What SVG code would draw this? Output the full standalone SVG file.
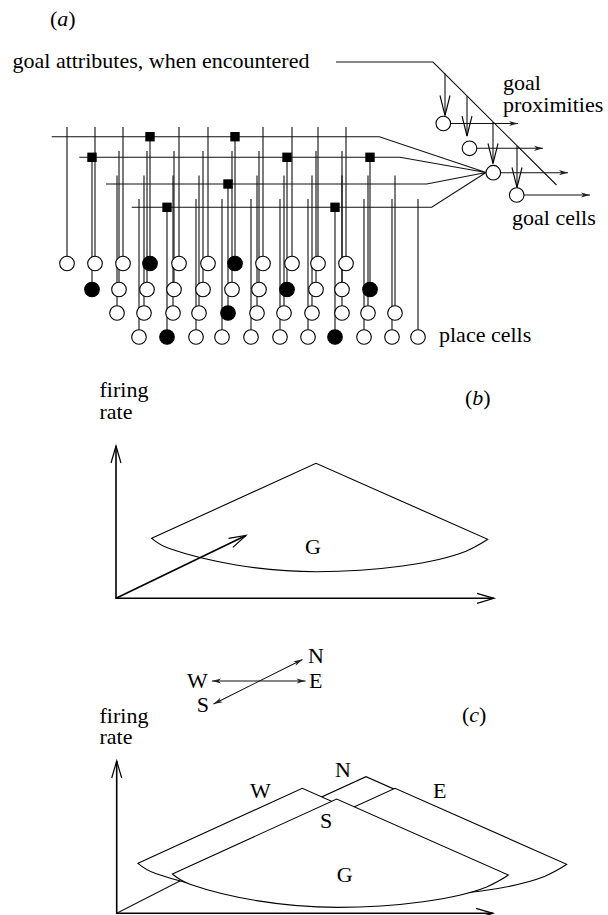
<svg xmlns="http://www.w3.org/2000/svg" width="608" height="915" viewBox="0 0 608 915">
<style>
text{font-family:"Liberation Serif","Times New Roman",serif;font-size:22px;fill:#000}
.ln{fill:none;stroke:#111;stroke-width:1.1}
.ax{fill:none;stroke:#000;stroke-width:1.6}
.cell{fill:#fff;stroke:#000;stroke-width:1.1}
.on{fill:#000;stroke:#000;stroke-width:1.1}
.syn{fill:#000}
.cone{stroke:#000;stroke-width:1.1}
</style>
<defs>
<marker id="vee" markerUnits="userSpaceOnUse" markerWidth="20" markerHeight="12" refX="0" refY="0" orient="auto" overflow="visible"><path d="M-17,-5 L0,0 L-17,5" fill="none" stroke="#000" stroke-width="1.2"/></marker>
<marker id="veeL" markerUnits="userSpaceOnUse" markerWidth="22" markerHeight="12" refX="0" refY="0" orient="auto" overflow="visible"><path d="M-20,-5 L0,0 L-20,5" fill="none" stroke="#000" stroke-width="1.1"/></marker>
<marker id="sm" markerUnits="userSpaceOnUse" markerWidth="10" markerHeight="6" refX="0" refY="0" orient="auto-start-reverse" overflow="visible"><path d="M0,0 L-9,-2.6 L-6.5,0 L-9,2.6 Z" fill="#222"/></marker>
<path id="cone" d="M-164.3,75 L0,0 L171.7,76 Q163,82 150,88 C120,100 60,108.4 0.7,108.4 C-55,108.4 -110,98 -146,85.5 Q-156,82 -164.3,75 Z"/>
</defs>

<g id="labels-a">
<text x="50" y="26">(<tspan font-style="italic">a</tspan>)</text>
<text x="12.5" y="67.5">goal attributes, when encountered</text>
<text x="503" y="90">goal</text>
<text x="503" y="112">proximities</text>
<text x="512" y="225">goal cells</text>
<text x="439" y="342">place cells</text>
</g>

<g id="connectors">
<path class="ln" d="M51.7,136.7H379.3L486,172.5M79.3,157.3H400L486,172.5M106,184H426.7L486,172.5M131.7,207.3H431.7L486,172.5"/>
<path class="ln" d="M67,127V256.2M95,127V256.2M123,127V256.2M150,136.7V256.2M179,127V256.2M208,127V256.2M235,136.7V256.2M263,127V256.2M292,127V256.2M318,127V256.2M346,127V256.2"/>
<path class="ln" d="M92,157.3V282.2M119,151V282.2M147,151V282.2M174,151V282.2M203,151V282.2M232,151V282.2M259,151V282.2M287,157.3V282.2M316,151V282.2M342,151V282.2M370,157.3V282.2"/>
<path class="ln" d="M117,175.5V305.7M144,175.5V305.7M173,175.5V305.7M199,175.5V305.7M228,184V305.7M257,175.5V305.7M284,175.5V305.7M312,175.5V305.7M342,175.5V305.7M368,175.5V305.7M395,175.5V305.7"/>
<path class="ln" d="M139,199V329.7M167,207.3V329.7M196,199V329.7M222,199V329.7M251,199V329.7M280,199V329.7M308,199V329.7M335,207.3V329.7M364,199V329.7M392,199V329.7M418,199V329.7"/>
<path class="ln" d="M336,62H433L556.5,185"/>
<path class="ln" d="M445,73.5V115.5" marker-end="url(#veeL)"/>
<path class="ln" d="M467,96V136" marker-end="url(#veeL)"/>
<path class="ln" d="M493,122V163.5" marker-end="url(#veeL)"/>
<path class="ln" d="M517,146V187.5" marker-end="url(#veeL)"/>
<path class="ln" d="M450.6,123.5H518" marker-end="url(#sm)"/>
<path class="ln" d="M476.8,148.3H543" marker-end="url(#sm)"/>
<path class="ln" d="M500.6,172.7H568" marker-end="url(#sm)"/>
<path class="ln" d="M524,195H590" marker-end="url(#sm)"/>
</g>

<g id="synapses">
<rect class="syn" x="145.3" y="132" width="9.4" height="9.4"/>
<rect class="syn" x="230.3" y="132" width="9.4" height="9.4"/>
<rect class="syn" x="87.3" y="152.6" width="9.4" height="9.4"/>
<rect class="syn" x="282.3" y="152.6" width="9.4" height="9.4"/>
<rect class="syn" x="365.3" y="152.6" width="9.4" height="9.4"/>
<rect class="syn" x="223.3" y="179.3" width="9.4" height="9.4"/>
<rect class="syn" x="162.3" y="202.6" width="9.4" height="9.4"/>
<rect class="syn" x="330.3" y="202.6" width="9.4" height="9.4"/>
</g>

<g id="place-cells">
<circle class="cell" cx="67" cy="263.5" r="7.3"/><circle class="cell" cx="95" cy="263.5" r="7.3"/><circle class="cell" cx="123" cy="263.5" r="7.3"/><circle class="on" cx="150" cy="263.5" r="7.3"/><circle class="cell" cx="179" cy="263.5" r="7.3"/><circle class="cell" cx="208" cy="263.5" r="7.3"/><circle class="on" cx="235" cy="263.5" r="7.3"/><circle class="cell" cx="263" cy="263.5" r="7.3"/><circle class="cell" cx="292" cy="263.5" r="7.3"/><circle class="cell" cx="318" cy="263.5" r="7.3"/><circle class="cell" cx="346" cy="263.5" r="7.3"/>
<circle class="on" cx="92" cy="289.5" r="7.3"/><circle class="cell" cx="119" cy="289.5" r="7.3"/><circle class="cell" cx="147" cy="289.5" r="7.3"/><circle class="cell" cx="174" cy="289.5" r="7.3"/><circle class="cell" cx="203" cy="289.5" r="7.3"/><circle class="cell" cx="232" cy="289.5" r="7.3"/><circle class="cell" cx="259" cy="289.5" r="7.3"/><circle class="on" cx="287" cy="289.5" r="7.3"/><circle class="cell" cx="316" cy="289.5" r="7.3"/><circle class="cell" cx="342" cy="289.5" r="7.3"/><circle class="on" cx="370" cy="289.5" r="7.3"/>
<circle class="cell" cx="117" cy="313" r="7.3"/><circle class="cell" cx="144" cy="313" r="7.3"/><circle class="cell" cx="173" cy="313" r="7.3"/><circle class="cell" cx="199" cy="313" r="7.3"/><circle class="on" cx="228" cy="313" r="7.3"/><circle class="cell" cx="257" cy="313" r="7.3"/><circle class="cell" cx="284" cy="313" r="7.3"/><circle class="cell" cx="312" cy="313" r="7.3"/><circle class="cell" cx="342" cy="313" r="7.3"/><circle class="cell" cx="368" cy="313" r="7.3"/><circle class="cell" cx="395" cy="313" r="7.3"/>
<circle class="cell" cx="139" cy="337" r="7.3"/><circle class="on" cx="167" cy="337" r="7.3"/><circle class="cell" cx="196" cy="337" r="7.3"/><circle class="cell" cx="222" cy="337" r="7.3"/><circle class="cell" cx="251" cy="337" r="7.3"/><circle class="cell" cx="280" cy="337" r="7.3"/><circle class="cell" cx="308" cy="337" r="7.3"/><circle class="on" cx="335" cy="337" r="7.3"/><circle class="cell" cx="364" cy="337" r="7.3"/><circle class="cell" cx="392" cy="337" r="7.3"/><circle class="cell" cx="418" cy="337" r="7.3"/>
</g>

<g id="goal-cells">
<circle class="cell" cx="443.3" cy="123.5" r="7.3"/>
<circle class="cell" cx="469.5" cy="148.3" r="7.3"/>
<circle class="cell" cx="493.3" cy="172.7" r="7.3"/>
<circle class="cell" cx="516.7" cy="195" r="7.3"/>
</g>

<g id="panel-b">
<text x="99.5" y="397">firing</text>
<text x="99.5" y="419">rate</text>
<text x="465" y="405">(<tspan font-style="italic">b</tspan>)</text>
<path class="ax" d="M116,599V446" marker-end="url(#vee)"/>
<path class="ax" d="M116,598.3H494" marker-end="url(#vee)"/>
<path class="ax" d="M116,598.3L246,535.5" marker-end="url(#vee)"/>
<use href="#cone" x="316" y="463.3" fill="none" class="cone"/>
<text x="305" y="554">G</text>
</g>

<g id="panel-c">
<text x="308" y="663">N</text>
<text x="187" y="688">W</text>
<text x="309" y="688">E</text>
<text x="196.7" y="711.5">S</text>
<path class="ln" d="M212,681H305.5" marker-start="url(#sm)" marker-end="url(#sm)"/>
<path class="ln" d="M213.5,704L302.5,659.5" marker-start="url(#sm)" marker-end="url(#sm)"/>
<text x="99.5" y="722.5">firing</text>
<text x="99.5" y="744">rate</text>
<text x="462" y="721.5">(<tspan font-style="italic">c</tspan>)</text>
<path class="ax" d="M116.7,914V761" marker-end="url(#vee)"/>
<path class="ax" d="M116.7,913.3H493" marker-end="url(#vee)"/>
<path class="ln" d="M116.7,913.3L260,840"/>
<use href="#cone" x="366" y="776.7" fill="#fff" class="cone"/>
<use href="#cone" x="395" y="788.3" fill="#fff" class="cone"/>
<use href="#cone" x="302.3" y="788.3" fill="#fff" class="cone"/>
<use href="#cone" x="336.7" y="799" fill="#fff" class="cone"/>
<text x="250" y="798">W</text>
<text x="335" y="776.7">N</text>
<text x="433" y="798">E</text>
<text x="320" y="828">S</text>
<text x="336.7" y="881.7">G</text>
</g>
</svg>
